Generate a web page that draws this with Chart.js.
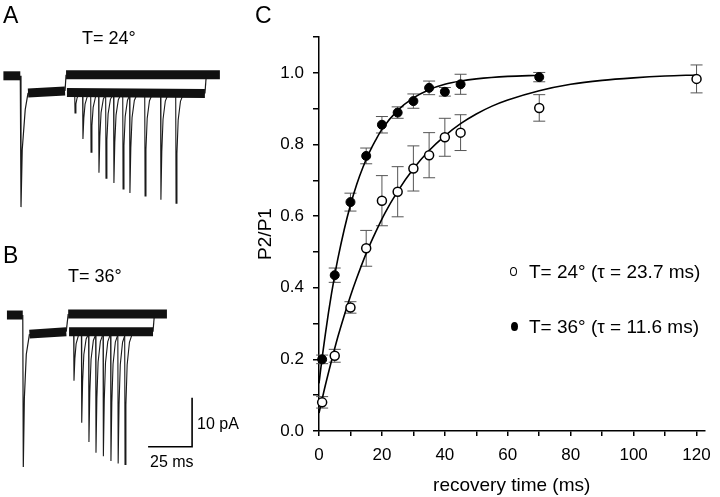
<!DOCTYPE html>
<html>
<head>
<meta charset="utf-8">
<script src="https://cdn.jsdelivr.net/npm/chart.js@4"></script>
<style>
  html, body { margin: 0; padding: 0; background: #fff; }
  #wrap { position: relative; width: 720px; height: 497px; overflow: hidden; background: #fff;
          font-family: "Liberation Sans", Arial, Helvetica, sans-serif; color: #000; }
  canvas { position: absolute; }
  #traceA { left: 0; top: 0; }
  #traceB { left: 0; top: 240px; }
  #chartC { left: 240px; top: 0; }
  .txt { position: absolute; line-height: 1; white-space: nowrap; }
  .panel { font-size: 23px; }
  .temp { font-size: 18px; }
  .bar { font-size: 16px; }
  .leg { font-size: 19px; left: 529px; }
  .mk { position: absolute; width: 7px; height: 9px; border-radius: 50%; box-sizing: border-box; }
</style>
</head>
<body>
<div id="wrap">
  <canvas id="traceA" width="240" height="240"></canvas>
  <canvas id="traceB" width="240" height="257"></canvas>
  <canvas id="chartC" width="480" height="497"></canvas>

  <div class="txt panel" style="left:3px;top:4px">A</div>
  <div class="txt panel" style="left:3px;top:244px">B</div>
  <div class="txt panel" style="left:255px;top:4px">C</div>
  <div class="txt temp" style="left:82px;top:29px">T= 24°</div>
  <div class="txt temp" style="left:68px;top:267px">T= 36°</div>
  <div class="txt bar" style="left:197px;top:416px">10 pA</div>
  <div class="txt bar" style="left:150px;top:454px">25 ms</div>

  <div class="mk" style="left:510px;top:267px;border:1.5px solid #000;background:#fff"></div>
  <div class="txt leg" style="top:262px">T= 24° (τ = 23.7 ms)</div>
  <div class="mk" style="left:511px;top:322px;background:#000"></div>
  <div class="txt leg" style="top:317px">T= 36° (τ = 11.6 ms)</div>
</div>

<script>
// ── C: paired-pulse recovery (P2/P1 vs recovery time, ms) ──
const recoveryTime24 = [1, 5, 10, 15, 20, 25, 30, 35, 40, 45, 70, 120];
const ratio24 = [0.08, 0.21, 0.345, 0.51, 0.643, 0.668, 0.733, 0.77, 0.82, 0.833, 0.902, 0.983];
const sem24 = [0.016, 0.018, 0.016, 0.05, 0.07, 0.07, 0.063, 0.063, 0.053, 0.05, 0.037, 0.039];

const recoveryTime36 = [1, 5, 10, 15, 20, 25, 30, 35, 40, 45, 70];
const ratio36 = [0.2, 0.435, 0.639, 0.768, 0.855, 0.889, 0.921, 0.958, 0.947, 0.968, 0.988];
const sem36 = [0.012, 0.02, 0.025, 0.022, 0.023, 0.016, 0.02, 0.019, 0.012, 0.028, 0.013];

// fitted curves
const fitTime24 = [0, 2, 4, 6, 8, 10, 12, 15, 18, 21, 25, 30, 35, 40, 45, 50, 55, 60, 70, 80, 90, 100, 110, 120];
const fit24 = [0.05, 0.127, 0.197, 0.263, 0.322, 0.377, 0.427, 0.496, 0.555, 0.609, 0.669, 0.732, 0.783,
               0.824, 0.858, 0.885, 0.907, 0.924, 0.950, 0.968, 0.979, 0.986, 0.991, 0.994];
const fitTime36 = [0, 1, 2, 3, 4, 5, 6, 8, 10, 12, 14, 16, 18, 20, 25, 30, 35, 40, 45, 50, 60, 70];
const fit36 = [0.133, 0.205, 0.269, 0.330, 0.385, 0.435, 0.481, 0.562, 0.631, 0.689, 0.737, 0.778,
               0.812, 0.842, 0.895, 0.930, 0.953, 0.968, 0.977, 0.983, 0.990, 0.993];

// ── A / B: current traces (ms, pA); 0 ms = first pulse ──
const bandsA = [
    [[-10, 0], [-0.4, 0]],
    [[4, -3.5], [25, -3.1]],
    [[25.6, 0.2], [113, 0.2]],
    [[26.1, -3.4], [104.5, -3.6]]
];
const sweepsA = [
    [[-0.4, 0], [0, -26.8], [0.7, -15.1], [2.4, -6.9], [4, -3.5]],
    [[25, -3.1], [25.6, 0.2]],
    [[104.5, -3.6], [105.3, 0.2]]
];
const pulseTimeA = [30.7, 35.2, 39.8, 44.3, 48.3, 52.8, 58.0, 61.9, 70.5, 79.5, 88.1];
const pulseAmpA = [-7.6, -12.9, -15.6, -19.8, -20.9, -21.9, -23.1, -23.9, -24.5, -25.3, -26.0];
const levelA = -3.4;

const bandsB = [
    [[-9.3, 0], [-0.3, 0]],
    [[3.5, -3.9], [24.4, -3.4]],
    [[25.5, 0.2], [81.6, 0.2]],
    [[26, -3.4], [73.7, -3.4]]
];
const sweepsB = [
    [[-0.3, 0], [0, -31.0], [0.6, -17], [1.7, -8], [3.5, -3.9]],
    [[24.4, -3.4], [25.5, 0.2]],
    [[73.7, -3.4], [74.5, 0.2]]
];
const pulseTimeB = [28.8, 33.2, 37.3, 41.3, 45.5, 49.8, 53.9, 57.8];
const pulseAmpB = [-13.4, -22.0, -25.9, -28.1, -28.8, -29.8, -30.3, -30.5];
const levelB = -3.4;
const scaleBar = [[70.9, -26.9], [95.9, -26.9], [95.9, -16.9]];   // 25 ms / 10 pA

// shape of a single synaptic current (fraction of peak vs ms from onset)
const dipOffset = [-0.2, 0, 0.5, 1.2, 2.5, 4.5];
const dipFraction = [0, 1, 0.55, 0.25, 0.08, 0];

const FONT = '"Liberation Sans", Arial, Helvetica, sans-serif';
Chart.defaults.font.family = FONT;
Chart.defaults.color = "#000";

const toXY = arr => arr.map(p => ({ x: p[0], y: p[1] }));

function traceChart(id, bands, sweeps, times, amps, level, xr, yr, extra) {
    const ds = [];
    bands.forEach(b => ds.push({ data: toXY(b), borderColor: "#111", borderWidth: 9 }));
    sweeps.forEach(s => ds.push({ data: toXY(s), borderColor: "#1a1a1a", borderWidth: 1.2 }));
    times.forEach((t, i) => ds.push({
        data: dipOffset.map((dt, k) => ({ x: t + dt, y: level + (amps[i] - level) * dipFraction[k] })),
        borderColor: "#1a1a1a", borderWidth: 1.1
    }));
    if (extra) ds.push({ data: toXY(extra), borderColor: "#000", borderWidth: 1.6 });
    ds.forEach(d => { d.showLine = true; d.pointRadius = 0; d.borderCapStyle = "butt"; });

    new Chart(document.getElementById(id), {
        type: "scatter",
        data: { datasets: ds },
        options: {
            responsive: false, animation: false, events: [],
            layout: { padding: 0 },
            plugins: { legend: { display: false }, tooltip: { enabled: false } },
            scales: {
                x: { type: "linear", display: false, min: xr[0], max: xr[1] },
                y: { type: "linear", display: false, min: yr[0], max: yr[1] }
            }
        }
    });
}

traceChart("traceA", bandsA, sweepsA, pulseTimeA, pulseAmpA, levelA, [-11.93, 124.43], [-33.51, 15.47]);
traceChart("traceB", bandsB, sweepsB, pulseTimeB, pulseAmpB, levelB, [-13.24, 123.12], [-37.14, 15.31], scaleBar);

// ── error bars for C ──
const errorBars = {
    id: "errorBars",
    beforeDatasetsDraw(chart) {
        const { ctx, scales: { x, y } } = chart;
        ctx.save();
        ctx.strokeStyle = "#555";
        ctx.lineWidth = 1;
        chart.data.datasets.forEach(d => {
            if (!d.errors) return;
            d.data.forEach((p, i) => {
                const px = x.getPixelForValue(p.x);
                const yt = y.getPixelForValue(p.y + d.errors[i]);
                const yb = y.getPixelForValue(p.y - d.errors[i]);
                ctx.beginPath();
                ctx.moveTo(px, yt); ctx.lineTo(px, yb);
                ctx.moveTo(px - 6, yt); ctx.lineTo(px + 6, yt);
                ctx.moveTo(px - 6, yb); ctx.lineTo(px + 6, yb);
                ctx.stroke();
            });
        });
        ctx.restore();
    }
};

const pts = (xs, ys) => xs.map((v, i) => ({ x: v, y: ys[i] }));
const curve = (xs, ys) => ({
    data: pts(xs, ys), showLine: true, pointRadius: 0, borderColor: "#000", borderWidth: 1.6,
    cubicInterpolationMode: "monotone", order: 2
});

new Chart(document.getElementById("chartC"), {
    type: "scatter",
    data: {
        datasets: [
            {
                data: pts(recoveryTime24, ratio24), errors: sem24, pointStyle: "circle", pointRadius: 4.5,
                backgroundColor: "#fff", borderColor: "#000", borderWidth: 1.5, clip: false, order: 1
            },
            {
                data: pts(recoveryTime36, ratio36), errors: sem36, pointStyle: "circle", pointRadius: 4.5,
                backgroundColor: "#000", borderColor: "#000", borderWidth: 1, clip: false, order: 1
            },
            curve(fitTime24, fit24),
            curve(fitTime36, fit36)
        ]
    },
    options: {
        responsive: false, animation: false, events: [],
        layout: { padding: { top: 37, right: 13, bottom: 0, left: 0 } },
        plugins: { legend: { display: false }, tooltip: { enabled: false } },
        scales: {
            x: {
                type: "linear", min: 0, max: 122.5,
                afterFit: s => { s.height = 66; },
                border: { display: true, color: "#000", width: 1.5 },
                grid: { drawOnChartArea: false, drawTicks: true, tickLength: 5, color: "#000", lineWidth: 1.5 },
                ticks: {
                    stepSize: 10, includeBounds: false, autoSkip: false, maxRotation: 0, padding: 9,
                    font: { size: 17 }, color: "#000",
                    callback: v => (v % 20 === 0 ? String(v) : "")
                },
                title: { display: true, text: "recovery time (ms)", font: { size: 19 }, color: "#000",
                         padding: { top: 0, bottom: 0 } }
            },
            y: {
                type: "linear", min: 0, max: 1.1,
                afterFit: s => { s.width = 79; },
                border: { display: true, color: "#000", width: 1.5 },
                grid: { drawOnChartArea: false, drawTicks: true, tickLength: 6, color: "#000", lineWidth: 1.5 },
                ticks: {
                    stepSize: 0.1, autoSkip: false, padding: 9, font: { size: 17 }, color: "#000",
                    callback: v => (Math.round(v * 10) % 2 === 0 ? v.toFixed(1) : "")
                },
                title: { display: true, text: "P2/P1", font: { size: 19 }, color: "#000",
                         padding: { top: 14, bottom: 0 } }
            }
        }
    },
    plugins: [errorBars]
});
</script>
</body>
</html>
